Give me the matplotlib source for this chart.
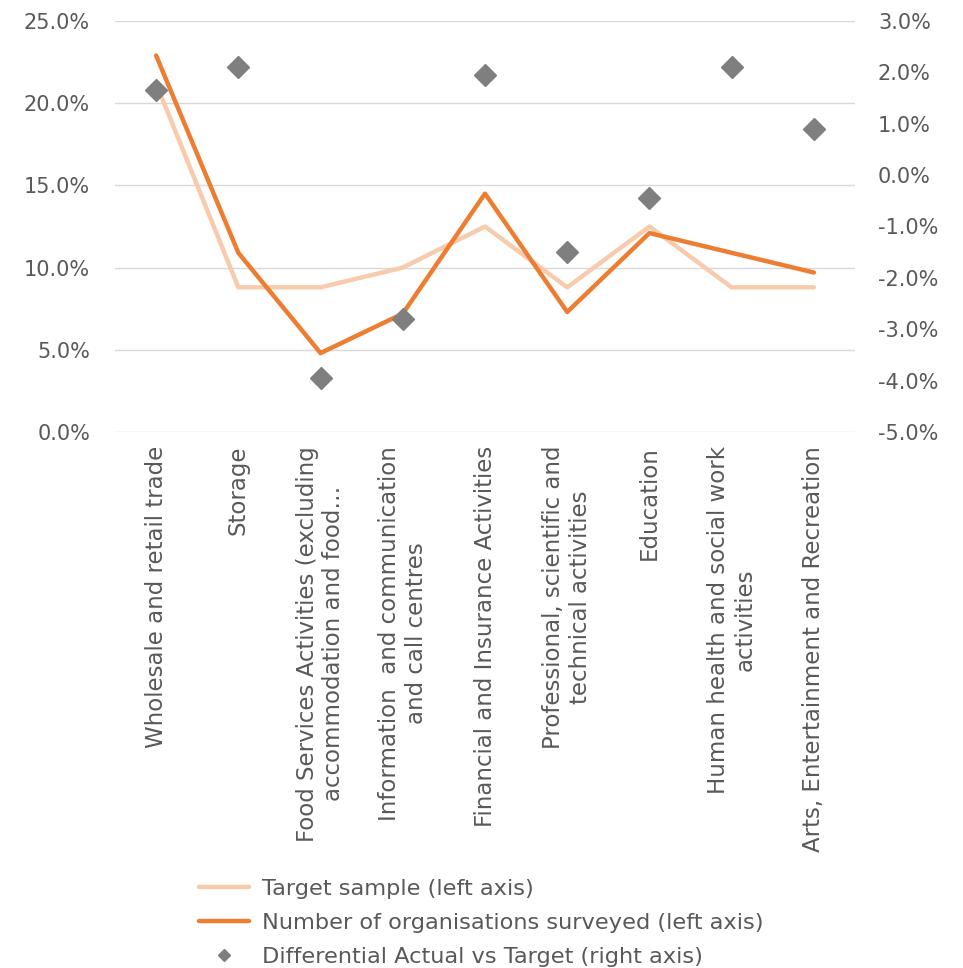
import matplotlib.pyplot as plt
from matplotlib.ticker import PercentFormatter

plt.rcParams['font.family'] = ['DejaVu Sans']
plt.rcParams['axes.unicode_minus'] = False

categories = ["Wholesale and retail trade",
              "Storage",
              "Food Services Activities (excluding\naccommodation and food\u2026",
              "Information  and communication\nand call centres",
              "Financial and Insurance Activities",
              "Professional, scientific and\ntechnical activities",
              "Education",
              "Human health and social work\nactivities",
              "Arts, Entertainment and Recreation"]
target = [21.2, 8.8, 8.8, 10.0, 12.5, 8.8, 12.5, 8.8, 8.8]
surveyed = [22.9, 10.9, 4.8, 7.2, 14.5, 7.3, 12.1, 10.9, 9.7]
diff = [1.65, 2.1, -3.95, -2.8, 1.95, -1.5, -0.45, 2.1, 0.9]

grey = '#595959'
fig = plt.figure(figsize=(9.63, 9.68), dpi=100)
ax = fig.add_axes([115/963, 1-432/968, 740/963, 411/968])
ax2 = ax.twinx()

x = range(len(categories))
l1, = ax.plot(x, target, color='#F8CBAD', lw=3.2, solid_capstyle='round', zorder=2)
l2, = ax.plot(x, surveyed, color='#ED7D31', lw=3.2, solid_capstyle='round', zorder=3)
l3, = ax2.plot(x, diff, ls='none', marker='D', ms=11, color='#7F7F7F', zorder=4)

ax.set_xlim(-0.5, len(categories)-0.5)
ax.set_ylim(0, 25)
ax.set_yticks([0, 5, 10, 15, 20, 25])
ax.yaxis.set_major_formatter(PercentFormatter(decimals=1))
ax.grid(axis='y', color='#D9D9D9', lw=1)
ax.set_axisbelow(True)
ax2.set_ylim(-5, 3)
ax2.set_yticks(range(-5, 4))
ax2.yaxis.set_major_formatter(PercentFormatter(decimals=1))

ax.set_xticks(list(x))
ax.set_xticklabels(categories, rotation=90, ha='center', va='top', multialignment='center')
for a in (ax, ax2):
    for s in a.spines.values():
        s.set_visible(False)
    a.tick_params(length=0, labelsize=15, colors=grey)
ax.tick_params(axis='y', pad=18)
ax2.tick_params(axis='y', pad=16.5)
ax.tick_params(axis='x', pad=10, labelsize=16.5)

fig.legend([l1, l2, l3],
           ['Target sample (left axis)',
            'Number of organisations surveyed (left axis)',
            'Differential Actual vs Target (right axis)'],
           loc='upper left', bbox_to_anchor=(199/963, 1-879/968), frameon=False,
           fontsize=16.2, labelcolor=grey, handlelength=2.2, handletextpad=0.6,
           labelspacing=0.62, borderaxespad=0, borderpad=0, markerscale=0.6)

fig.savefig('out.png', dpi=100)
